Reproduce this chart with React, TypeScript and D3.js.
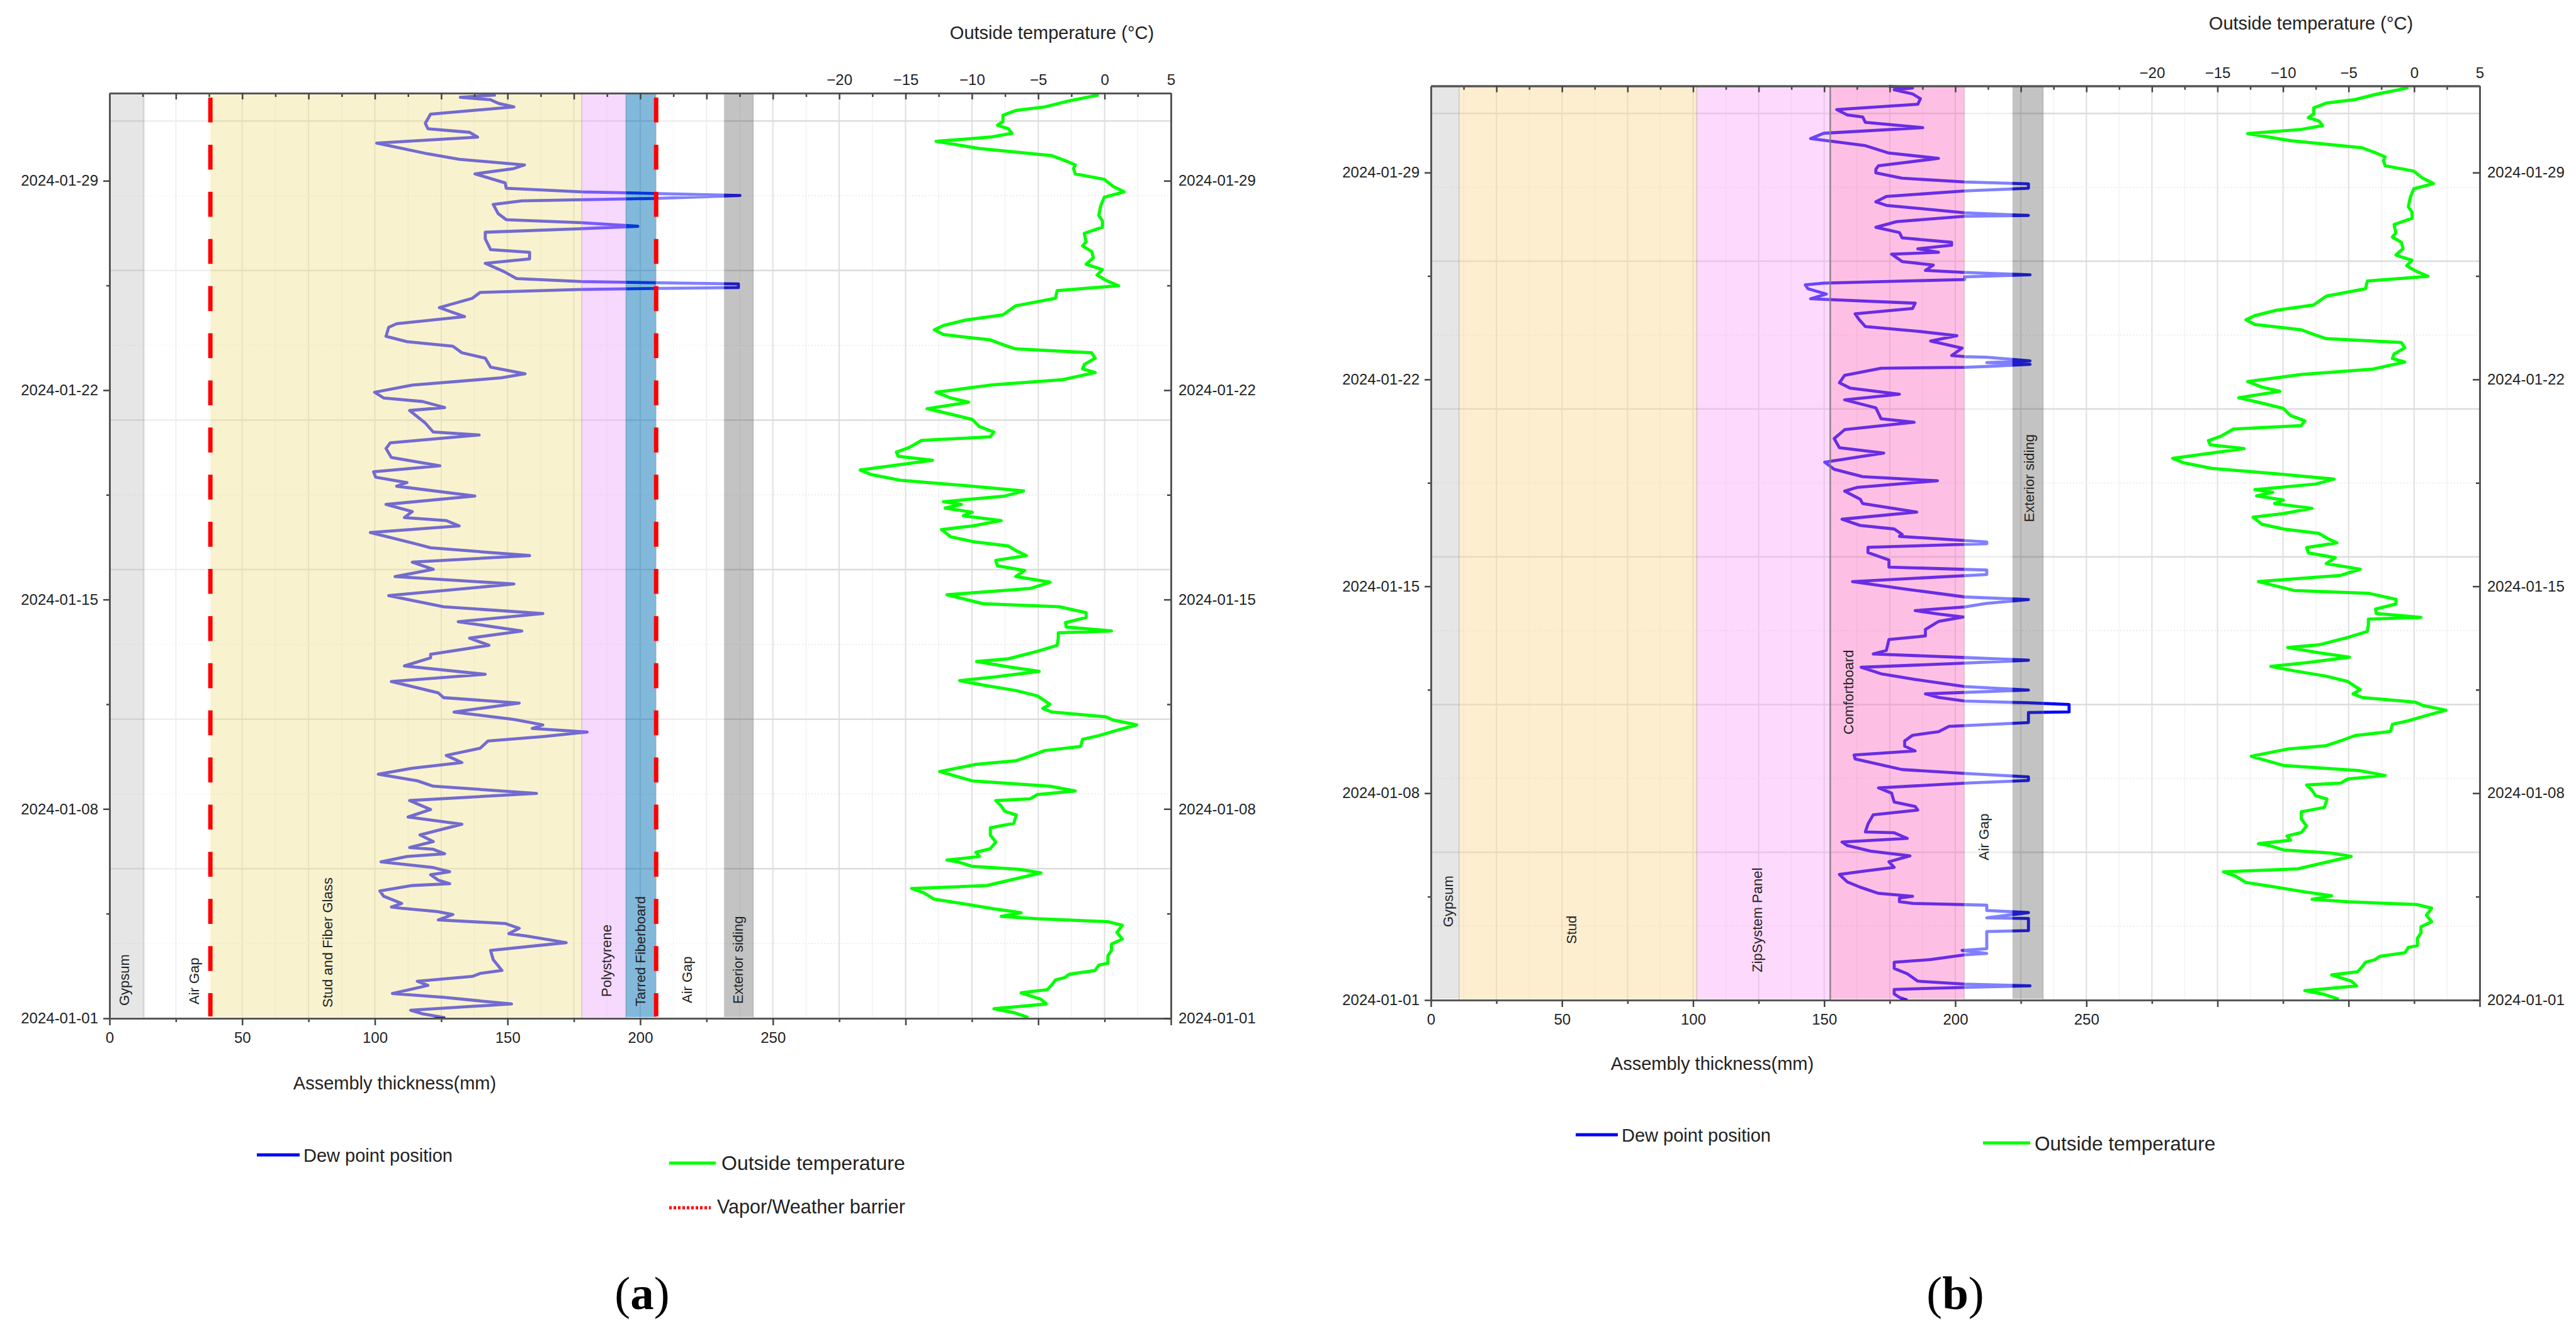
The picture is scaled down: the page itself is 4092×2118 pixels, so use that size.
import { useEffect, useRef } from 'react';
import * as d3 from 'd3';

// Days since 2024-01-01 and dew point position (mm) for assembly (a)
const dewDaysA = [0.02,0.15,0.27,0.48,0.70,0.83,1.10,1.24,1.40,1.50,1.60,1.96,2.27,2.53,2.75,2.83,3.01,3.17,3.29,3.47,3.57,3.68,3.72,3.84,4.08,4.26,4.44,4.50,4.62,4.80,4.90,5.04,5.23,5.41,5.50,5.65,5.71,5.91,6.13,6.49,6.73,6.98,7.28,7.52,7.76,7.94,8.16,8.36,8.55,8.79,9.03,9.27,9.42,9.57,9.69,9.81,9.99,10.24,10.54,10.72,10.88,11.26,11.50,11.78,12.05,12.17,12.47,12.71,12.95,13.26,13.53,13.76,14.13,14.52,14.77,15.01,15.25,15.47,15.73,15.85,16.24,16.46,16.64,16.74,16.94,17.18,17.46,17.79,17.91,18.09,18.27,18.47,18.75,19.05,19.24,19.50,19.60,19.90,20.32,20.42,20.62,20.74,20.93,21.17,21.41,21.55,21.77,22.07,22.25,22.47,22.62,22.80,23.10,23.22,23.46,23.76,24.07,24.27,24.37,24.43,24.55,24.63,24.73,24.97,25.24,25.39,25.61,25.70,26.06,26.28,26.40,26.48,26.60,26.70,26.90,27.21,27.33,27.41,27.51,27.63,27.75,27.93,28.23,28.41,28.53,28.72,28.90,29.26,29.46,29.62,29.74,29.92,30.23,30.47,30.59,30.71,30.79,30.87];
const dewMmA = [126.5,118.0,113.5,151.5,125.9,106.6,120.0,116.0,136.7,139.7,147.9,144.6,143.6,172.1,157.4,150.5,154.4,149.1,123.9,129.4,123.5,110.1,106.2,110.1,103.3,101.9,114.1,128.2,123.9,121.0,128.2,122.0,102.3,112.1,126.3,122.0,113.1,122.0,117.0,132.8,112.5,121.0,113.1,160.9,122.0,116.0,101.3,114.1,132.8,126.9,139.7,142.6,163.3,180.0,159.3,163.3,152.4,129.8,154.4,125.9,123.9,106.2,141.6,111.1,121.0,121.0,143.0,135.7,155.4,131.4,163.3,125.9,105.2,152.4,107.6,122.0,114.1,158.3,121.0,116.0,98.3,131.8,126.9,111.1,114.1,104.2,137.7,108.2,112.1,100.3,99.5,124.5,106.2,104.2,105.8,139.3,122.0,119.0,113.1,126.3,118.0,103.3,99.9,114.1,147.5,156.6,143.6,141.6,132.8,129.4,112.1,104.2,105.2,108.2,133.8,124.3,136.7,139.7,178.0,237.0,237.0,178.0,153.4,148.5,141.6,158.3,158.3,143.6,141.6,141.6,178.0,199.1,178.0,149.5,146.5,144.6,155.4,205.5,237.6,178.0,149.5,149.1,137.7,152.4,156.4,131.8,120.0,100.7,138.7,135.7,120.0,119.0,121.0,152.4,146.5,143.6,132.2,145.6];

// Same reading for assembly (b)
const dewDaysB = [0.00,0.09,0.21,0.36,0.43,0.48,0.54,0.64,0.89,1.07,1.28,1.37,1.53,1.58,1.68,1.74,2.32,2.35,2.76,2.78,2.96,3.03,3.21,3.27,3.33,3.45,3.51,3.61,3.82,4.00,4.25,4.37,4.49,4.68,4.88,5.04,5.23,5.35,5.47,5.66,5.69,5.96,6.27,6.43,6.55,6.70,7.00,7.18,7.34,7.43,7.55,7.67,7.80,8.16,8.29,8.43,8.59,8.77,8.96,9.08,9.26,9.39,9.73,9.75,10.00,10.06,10.12,10.24,10.36,10.49,10.61,10.85,11.04,11.26,11.40,11.50,11.59,11.71,11.83,12.20,12.32,12.54,12.81,12.96,13.06,13.18,13.30,13.42,13.55,13.64,13.91,14.16,14.40,14.55,14.65,14.89,15.14,15.32,15.44,15.50,15.69,15.76,15.94,16.06,16.27,16.51,16.80,16.95,17.22,17.35,17.57,17.71,17.96,18.20,18.51,18.69,19.00,19.30,19.55,19.67,20.04,20.31,20.50,20.71,20.89,21.14,21.38,21.41,21.44,21.51,21.57,21.63,21.75,21.77,21.81,22.06,22.30,22.48,22.63,22.79,23.03,23.22,23.40,23.58,23.71,23.73,23.89,24.07,24.20,24.26,24.38,24.47,24.54,24.62,24.69,24.87,24.99,25.24,25.30,25.42,25.54,25.64,25.79,25.97,26.15,26.34,26.52,26.55,26.64,26.89,27.01,27.19,27.38,27.47,27.62,27.68,27.81,27.99,28.11,28.23,28.48,28.66,28.91,29.15,29.33,29.52,29.70,29.88,29.95,30.13,30.31,30.50,30.66,30.80,30.86,30.92];
const dewMmB = [181.7,178.7,176.7,176.7,203.6,228.5,203.6,185.7,181.7,176.7,176.7,190.6,203.6,212.0,202.6,212.0,212.0,227.9,227.9,212.0,227.9,212.0,212.0,183.7,178.7,178.7,183.7,170.7,163.7,158.8,155.8,165.7,176.7,174.7,182.7,167.7,158.8,156.8,181.7,176.7,165.7,166.7,168.7,185.7,184.7,176.7,175.7,170.7,203.6,227.9,227.9,203.6,179.7,161.8,161.4,184.7,180.7,180.7,183.7,193.6,197.6,227.9,227.9,243.4,243.4,227.9,203.6,193.6,188.6,227.9,203.6,184.7,171.7,164.1,203.6,227.9,203.6,168.7,173.7,174.7,188.6,188.6,193.6,203.0,193.6,184.7,203.6,211.6,227.9,203.6,180.7,160.8,212.0,212.0,174.7,174.7,166.7,166.7,212.0,212.0,178.7,179.7,176.7,163.7,156.8,185.3,164.7,163.7,157.8,162.7,193.2,164.7,153.8,150.2,172.7,155.8,153.8,157.8,184.3,171.7,169.7,157.8,178.7,159.8,155.8,157.8,171.7,203.6,212.0,228.5,212.0,228.5,212.0,203.6,198.6,202.6,190.6,200.6,185.7,165.7,163.3,161.8,183.7,184.7,149.8,144.8,150.8,143.8,142.8,149.8,203.6,203.6,228.5,203.6,188.6,191.6,179.7,175.7,193.6,185.7,198.6,198.6,179.7,178.7,169.7,177.7,203.6,227.9,203.6,173.7,169.7,173.7,203.6,227.9,227.9,203.6,179.7,169.7,169.7,170.7,193.6,174.7,165.7,144.8,149.8,187.6,165.7,164.7,158.8,154.8,185.7,186.7,183.7,176.7,183.7,174.7];

// Outside temperature, the same record in both panels
const tempDays = [0.03,0.19,0.32,0.48,0.64,0.85,0.96,1.12,1.28,1.36,1.48,1.60,1.78,1.84,2.09,2.27,2.48,2.65,2.87,3.11,3.23,3.33,3.41,3.53,3.66,3.84,3.98,4.20,4.34,4.44,4.86,4.98,5.08,5.23,5.29,5.41,5.55,5.67,5.89,6.13,6.37,6.52,6.80,6.92,7.10,7.28,7.34,7.48,7.60,7.76,7.94,8.25,8.49,8.61,8.79,8.95,9.09,9.33,9.45,9.63,9.81,9.97,10.08,10.24,10.36,10.50,10.78,10.96,11.14,11.29,11.41,11.60,11.75,11.93,12.02,12.27,12.47,12.71,12.89,12.95,13.08,13.23,13.40,13.56,13.76,13.86,14.16,14.37,14.58,14.77,14.97,15.13,15.31,15.47,15.61,15.79,15.94,16.10,16.34,16.46,16.64,16.80,16.92,17.06,17.18,17.27,17.46,17.63,17.82,17.99,18.18,18.33,18.51,18.66,18.79,18.93,19.08,19.32,19.44,19.60,19.78,20.02,20.20,20.38,20.60,20.74,20.93,21.01,21.17,21.35,21.59,21.71,21.86,22.07,22.25,22.38,22.50,22.68,22.86,23.02,23.16,23.34,23.52,23.82,24.07,24.33,24.49,24.67,24.85,25.03,25.21,25.43,25.64,25.82,25.96,26.24,26.45,26.66,26.84,27.15,27.45,27.63,27.81,28.05,28.23,28.41,28.53,28.66,28.84,29.08,29.32,29.46,29.59,29.74,29.86,29.98,30.19,30.35,30.47,30.65,30.87];
const tempC = [-5.75,-6.84,-8.34,-4.39,-4.80,-6.29,-4.31,-3.98,-3.71,-3.02,-2.62,-0.71,-0.44,0.25,0.25,0.52,0.52,1.34,0.93,1.34,0.25,-5.07,-7.79,-6.29,-8.34,-10.79,-12.83,-13.65,-14.55,-8.88,-4.80,-6.43,-9.97,-11.06,-11.88,-9.43,-9.70,-8.61,-8.20,-8.61,-8.61,-6.84,-6.65,-7.52,-7.79,-8.20,-5.61,-5.07,-2.21,-4.11,-9.97,-12.43,-9.70,-6.70,-5.48,-4.52,-1.80,-1.66,-0.44,0.93,2.43,0.65,0.11,-3.98,-4.66,-4.11,-5.07,-6.70,-9.16,-10.93,-8.34,-4.93,-7.25,-9.65,-7.25,-5.07,-3.57,-3.49,-3.49,0.52,-2.89,-2.94,-1.39,-1.39,-3.43,-9.16,-11.88,-5.61,-4.11,-6.70,-6.02,-8.07,-8.20,-5.89,-6.57,-7.25,-9.97,-11.61,-12.29,-9.97,-7.79,-10.65,-9.97,-12.02,-10.79,-12.15,-7.52,-6.10,-10.79,-15.42,-17.60,-18.42,-15.42,-12.97,-15.56,-15.69,-14.74,-13.79,-8.61,-8.34,-9.43,-9.97,-11.61,-13.38,-10.25,-11.61,-12.70,-11.33,-8.61,-3.16,-0.71,-1.66,-1.53,-0.71,-0.98,-6.70,-7.52,-8.61,-12.15,-12.83,-12.15,-10.52,-7.66,-6.70,-3.71,-3.57,1.06,0.11,-0.57,-0.16,-1.39,-0.84,-0.98,-1.66,-1.39,-1.53,-0.16,-0.16,-0.44,-0.30,-0.03,1.47,0.65,-0.03,-2.21,-2.34,-2.21,-2.89,-3.98,-9.43,-12.70,-8.61,-6.98,-7.25,-8.07,-7.66,-7.66,-6.70,-4.52,-2.89,-0.44];

// Wall layers, outside edges in mm
const layerNamesA = ['Gypsum', 'Air Gap', 'Stud and Fiber Glass', 'Polystyrene', 'Tarred Fiberboard', 'Air Gap', 'Exterior siding'];
const layerEdgesA = [0, 13, 38, 178, 194.6, 206, 231.6, 242.6];
const layerNamesB = ['Gypsum', 'Stud', 'ZipSystem Panel', 'Comfortboard', 'Air Gap', 'Exterior siding'];
const layerEdgesB = [0, 10.8, 101.4, 152.3, 203.5, 221.8, 233.5];
const barriersA = [38, 206];
const dividersB = [152.3];

const weekTicks = ['2024-01-01', '2024-01-08', '2024-01-15', '2024-01-22', '2024-01-29'];
const weekMinor = [3.5, 10.5, 17.5, 24.5];
const gridMajorDays = [5, 10, 15, 20, 25, 30];
const gridMinorDays = [2.5, 7.5, 12.5, 17.5, 22.5, 27.5];

// styles: bands sit on top of the lines with some alpha, that is why the line changes colour
const fillsA = [['#c0c0c0', 0.4], ['#ffffff', 0.5], ['#f3e499', 0.47], ['#edb3f9', 0.5], ['#0571b5', 0.5], ['#ffffff', 0.5], ['#535353', 0.35]];
const fillsB = [['#c0c0c0', 0.4], ['#fbda97', 0.45], ['#faa4fa', 0.42], ['#fa69be', 0.42], ['#ffffff', 0.5], ['#535353', 0.35]];
const labelPosA = [[197, 1598], [308, 1596], [520, 1601], [963, 1584], [1017, 1599], [1091, 1594], [1172.5, 1595]];
const labelPosB = [[2300, 1473], [2496, 1500], [2791.5, 1545], [2936, 1167], [3151, 1367], [3223.5, 829.5]];

const FONT = '"Liberation Sans", Arial, sans-serif';
const INK = '#222222';
const AXIS = '#555555';
const T0 = Date.UTC(2024, 0, 1);
const dayToDate = (d: number) => new Date(T0 + d * 864e5);

interface PanelCfg {
  left: number;
  right: number;
  top: number;
  bottom: number;
  names: string[];
  edges: number[];
  fills: (string | number)[][];
  labelPos: number[][];
  dewDays: number[];
  dewMm: number[];
  titleX: number;
  titleY: number;
  xTitleX: number;
  xTitleY: number;
  xLabelPad: number;
  barriers: number[];
  dividers: number[];
}

function drawPanel(svg: d3.Selection<SVGSVGElement, unknown, null, undefined>, cfg: PanelCfg) {
  const { left, right, top, bottom } = cfg;
  const x = d3.scaleLinear().domain([0, 400]).range([left, right]);
  const temp = d3.scaleLinear().domain([-75, 5]).range([left, right]);
  const y = d3.scaleUtc().domain([dayToDate(0), dayToDate(30.93)]).range([bottom, top]);
  const g = svg.append('g');

  // grid
  const grid = g.append('g').attr('fill', 'none');
  d3.range(-70, 5, 5).forEach((v) => {
    grid.append('line').attr('x1', temp(v)).attr('x2', temp(v)).attr('y1', top).attr('y2', bottom)
      .attr('stroke', '#dfdfdf').attr('stroke-width', 2);
  });
  d3.range(-72.5, 5, 5).forEach((v) => {
    grid.append('line').attr('x1', temp(v)).attr('x2', temp(v)).attr('y1', top).attr('y2', bottom)
      .attr('stroke', '#f2f2f2').attr('stroke-width', 1.5);
  });
  gridMajorDays.forEach((d) => {
    grid.append('line').attr('x1', left).attr('x2', right).attr('y1', y(dayToDate(d))).attr('y2', y(dayToDate(d)))
      .attr('stroke', '#dcdcdc').attr('stroke-width', 2.5);
  });
  gridMinorDays.forEach((d) => {
    grid.append('line').attr('x1', left).attr('x2', right).attr('y1', y(dayToDate(d))).attr('y2', y(dayToDate(d)))
      .attr('stroke', '#e8e8e8').attr('stroke-width', 1.5).attr('stroke-dasharray', '2 3');
  });

  // lines
  const dewLine = d3.line<number>().x((_, i) => x(cfg.dewMm[i])).y((d) => y(dayToDate(d)));
  g.append('path').attr('d', dewLine(cfg.dewDays)).attr('fill', 'none')
    .attr('stroke', '#0000ff').attr('stroke-width', 4.8).attr('stroke-linejoin', 'round');
  const tempLine = d3.line<number>().x((_, i) => temp(tempC[i])).y((d) => y(dayToDate(d)));
  g.append('path').attr('d', tempLine(tempDays)).attr('fill', 'none')
    .attr('stroke', '#00ff00').attr('stroke-width', 5).attr('stroke-linejoin', 'round');

  // layer bands
  cfg.names.forEach((_, i) => {
    g.append('rect')
      .attr('x', x(cfg.edges[i]) + (i === 0 ? 2 : 0))
      .attr('y', top)
      .attr('width', x(cfg.edges[i + 1]) - x(cfg.edges[i]) - (i === 0 ? 2 : 0))
      .attr('height', bottom - top - 2)
      .attr('fill', cfg.fills[i][0] as string)
      .attr('fill-opacity', cfg.fills[i][1] as number);
    if (cfg.fills[i][0] !== '#ffffff') {
      g.append('line').attr('x1', x(cfg.edges[i + 1])).attr('x2', x(cfg.edges[i + 1])).attr('y1', top).attr('y2', bottom)
        .attr('stroke', '#8c8c8c').attr('stroke-opacity', 0.35).attr('stroke-width', 2);
    }
  });
  cfg.dividers.forEach((d) => {
    g.append('line').attr('x1', x(d)).attr('x2', x(d)).attr('y1', top).attr('y2', bottom)
      .attr('stroke', '#7a7a7a').attr('stroke-opacity', 0.8).attr('stroke-width', 2.5);
  });
  cfg.barriers.forEach((d) => {
    g.append('line').attr('x1', x(d)).attr('x2', x(d)).attr('y1', top + 7).attr('y2', bottom - 3)
      .attr('stroke', '#ff0000').attr('stroke-width', 7).attr('stroke-dasharray', '39.6 35.3');
  });

  cfg.names.forEach((name, i) => {
    const [lx, ly] = cfg.labelPos[i];
    g.append('text').attr('transform', `translate(${lx},${ly}) rotate(-90)`)
      .attr('dominant-baseline', 'central')
      .attr('font-family', FONT).attr('font-size', 22).attr('fill', INK)
      .text(name);
  });

  // axes
  const styleAxis = (sel: d3.Selection<SVGGElement, unknown, null, undefined>) => {
    sel.select('.domain').attr('stroke', AXIS).attr('stroke-width', 3);
    sel.selectAll('.tick line').attr('stroke', '#444444').attr('stroke-width', 2.5);
    sel.selectAll('.tick text').attr('fill', INK).attr('font-family', FONT).attr('font-size', 24);
  };
  const weekDates = weekTicks.map((s) => new Date(s + 'T00:00:00Z'));
  const minorDates = weekMinor.map(dayToDate);
  const dateFmt = d3.utcFormat('%Y-%m-%d');

  const addAxis = (axis: d3.Axis<any>, tx: number, ty: number) => {
    const a = g.append('g').attr('transform', `translate(${tx},${ty})`).call(axis as any);
    styleAxis(a as any);
  };

  addAxis(d3.axisBottom(x).tickValues(d3.range(25, 400, 50)).tickFormat(() => '').tickSize(6).tickSizeOuter(0), 0, bottom);
  addAxis(d3.axisBottom(x).tickValues(d3.range(0, 401, 50))
    .tickFormat((d) => ((d as number) <= 250 ? String(d) : '')).tickSize(11).tickSizeOuter(0).tickPadding(cfg.xLabelPad), 0, bottom);
  addAxis(d3.axisTop(temp).tickValues(d3.range(-72.5, 5, 5)).tickFormat(() => '').tickSize(-6).tickSizeOuter(0), 0, top);
  addAxis(d3.axisTop(temp).tickValues(d3.range(-70, 6, 5))
    .tickFormat((d) => ((d as number) >= -20 ? d3.format('d')(d as number) : '')).tickSize(-10).tickSizeOuter(0).tickPadding(13), 0, top);
  addAxis(d3.axisLeft(y).tickValues(minorDates).tickFormat(() => '').tickSize(5).tickSizeOuter(0), left, 0);
  addAxis(d3.axisLeft(y).tickValues(weekDates).tickFormat((d) => dateFmt(d as Date)).tickSize(10).tickSizeOuter(0).tickPadding(8), left, 0);
  addAxis(d3.axisRight(y).tickValues(minorDates).tickFormat(() => '').tickSize(-6).tickSizeOuter(0), right, 0);
  addAxis(d3.axisRight(y).tickValues(weekDates).tickFormat((d) => dateFmt(d as Date)).tickSize(-11).tickSizeOuter(0).tickPadding(12), right, 0);

  // axis titles
  g.append('text').attr('x', cfg.titleX).attr('y', cfg.titleY).attr('text-anchor', 'middle')
    .attr('font-family', FONT).attr('font-size', 29).attr('fill', INK).text('Outside temperature (°C)');
  g.append('text').attr('x', cfg.xTitleX).attr('y', cfg.xTitleY).attr('text-anchor', 'middle')
    .attr('font-family', FONT).attr('font-size', 29).attr('fill', INK).text('Assembly thickness(mm)');
}

function legendItem(svg: any, x1: number, x2: number, ly: number, tx: number, ty: number, size: number, color: string, label: string, dash?: string) {
  svg.append('line').attr('x1', x1).attr('x2', x2).attr('y1', ly).attr('y2', ly)
    .attr('stroke', color).attr('stroke-width', 5).attr('stroke-dasharray', dash ?? null);
  svg.append('text').attr('x', tx).attr('y', ty)
    .attr('font-family', FONT).attr('font-size', size).attr('fill', INK).text(label);
}

export default function App() {
  const svgRef = useRef<SVGSVGElement>(null);

  useEffect(() => {
    if (!svgRef.current) return;
    const svg = d3.select(svgRef.current);
    svg.selectAll('*').remove();

    drawPanel(svg, {
      left: 174, right: 1860, top: 148, bottom: 1618,
      names: layerNamesA, edges: layerEdgesA, fills: fillsA, labelPos: labelPosA,
      dewDays: dewDaysA, dewMm: dewMmA,
      titleX: 1671, titleY: 62, xTitleX: 627, xTitleY: 1731, xLabelPad: 11,
      barriers: barriersA, dividers: [],
    });
    drawPanel(svg, {
      left: 2273, right: 3939, top: 136.6, bottom: 1589,
      names: layerNamesB, edges: layerEdgesB, fills: fillsB, labelPos: labelPosB,
      dewDays: dewDaysB, dewMm: dewMmB,
      titleX: 3671, titleY: 47, xTitleX: 2720, xTitleY: 1700, xLabelPad: 11,
      barriers: [], dividers: dividersB,
    });

    legendItem(svg, 408, 476, 1835, 482, 1846, 29, '#0000ff', 'Dew point position');
    legendItem(svg, 1063, 1137, 1848, 1146, 1859, 32, '#00ff00', 'Outside temperature');
    legendItem(svg, 1063, 1129, 1919, 1139, 1928, 30.5, '#ff0000', 'Vapor/Weather barrier', '4 3');
    legendItem(svg, 2503, 2570, 1803, 2576, 1814, 29, '#0000ff', 'Dew point position');
    legendItem(svg, 3150, 3225, 1816, 3232, 1828, 31.5, '#00ff00', 'Outside temperature');

    // panel letters
    [['a', 1020], ['b', 3106]].forEach(([letter, cx]) => {
      const t = svg.append('text').attr('x', cx as number).attr('y', 2080).attr('text-anchor', 'middle')
        .attr('font-family', '"Liberation Serif", serif').attr('font-size', 75).attr('fill', '#000000');
      t.append('tspan').text('(');
      t.append('tspan').attr('font-weight', 'bold').text(letter as string);
      t.append('tspan').text(')');
    });
  }, []);

  return (
    <svg
      ref={svgRef}
      width={4092}
      height={2118}
      style={{ position: 'absolute', left: 0, top: 0, display: 'block', background: '#ffffff' }}
    />
  );
}
